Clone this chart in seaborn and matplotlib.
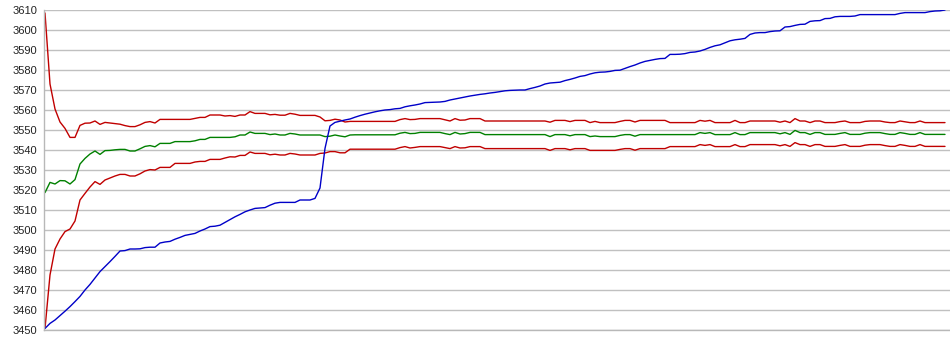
import numpy as np
import pandas as pd
import matplotlib
matplotlib.use("Agg")
import matplotlib.pyplot as plt
import seaborn as sns

# values, one sample every ~5 px along the x axis
upper = [
    3608.5, 3573.0, 3560.5, 3554.0, 3550.8, 3546.3, 3546.3, 3552.3, 3553.4, 3553.5,
    3554.5, 3552.8, 3553.8, 3553.5, 3553.2, 3552.9, 3552.2, 3551.7, 3551.7, 3552.6,
    3553.8, 3554.2, 3553.5, 3555.3, 3555.3, 3555.3, 3555.3, 3555.3, 3555.3, 3555.3,
    3555.8, 3556.3, 3556.3, 3557.5, 3557.5, 3557.5, 3557.0, 3557.2, 3556.8, 3557.5,
    3557.5, 3559.2, 3558.3, 3558.3, 3558.3, 3557.6, 3557.8, 3557.4, 3557.4, 3558.3,
    3557.9, 3557.3, 3557.3, 3557.3, 3557.3, 3556.5, 3554.6, 3554.8, 3555.4, 3555.0,
    3554.0, 3554.3, 3554.3, 3554.3, 3554.3, 3554.3, 3554.3, 3554.3, 3554.3, 3554.3,
    3554.3, 3555.2, 3555.7, 3555.2, 3555.3, 3555.7, 3555.7, 3555.7, 3555.7, 3555.7,
    3555.1, 3554.5, 3555.7, 3554.9, 3555.0, 3555.7, 3555.7, 3555.7, 3554.5, 3554.5,
    3554.5, 3554.5, 3554.5, 3554.5, 3554.5, 3554.5, 3554.5, 3554.5, 3554.5, 3554.5,
    3554.5, 3553.9, 3554.8, 3554.8, 3554.8, 3554.2, 3554.8, 3554.8, 3554.8, 3553.7,
    3554.3, 3553.7, 3553.7, 3553.7, 3553.7, 3554.3, 3554.8, 3554.8, 3554.0, 3554.8,
    3554.8, 3554.8, 3554.8, 3554.8, 3554.8, 3553.7, 3553.7, 3553.7, 3553.7, 3553.7,
    3553.7, 3554.8, 3554.4, 3554.8, 3553.7, 3553.7, 3553.7, 3553.7, 3554.8, 3553.7,
    3553.7, 3554.5, 3554.5, 3554.5, 3554.5, 3554.5, 3554.5, 3553.9, 3554.5, 3553.7,
    3555.7, 3554.5, 3554.5, 3553.7, 3554.5, 3554.5, 3553.7, 3553.7, 3553.7, 3554.2,
    3554.5, 3553.7, 3553.7, 3553.7, 3554.3, 3554.5, 3554.5, 3554.5, 3554.0, 3553.7,
    3553.7, 3554.5, 3554.1, 3553.7, 3553.7, 3554.5, 3553.7, 3553.7, 3553.7, 3553.7,
    3553.7,
]

middle = [
    3518.7, 3523.8, 3523.0, 3524.7, 3524.6, 3523.0, 3525.2, 3533.0, 3535.8, 3538.0,
    3539.5, 3537.8, 3539.7, 3539.8, 3540.1, 3540.3, 3540.3, 3539.5, 3539.5, 3540.6,
    3541.8, 3542.2, 3541.6, 3543.3, 3543.3, 3543.3, 3544.2, 3544.2, 3544.2, 3544.2,
    3544.6, 3545.3, 3545.3, 3546.3, 3546.3, 3546.3, 3546.3, 3546.3, 3546.6, 3547.5,
    3547.5, 3549.0, 3548.3, 3548.3, 3548.3, 3547.7, 3548.0, 3547.5, 3547.5, 3548.3,
    3548.0, 3547.5, 3547.5, 3547.5, 3547.5, 3547.5, 3546.7, 3546.9, 3547.5, 3547.0,
    3546.6, 3547.5, 3547.6, 3547.6, 3547.6, 3547.6, 3547.6, 3547.6, 3547.6, 3547.6,
    3547.6, 3548.4, 3548.8, 3548.2, 3548.3, 3548.8, 3548.8, 3548.8, 3548.8, 3548.8,
    3548.2, 3547.7, 3548.8, 3548.0, 3548.2, 3548.8, 3548.8, 3548.8, 3547.7, 3547.7,
    3547.7, 3547.7, 3547.7, 3547.7, 3547.7, 3547.7, 3547.7, 3547.7, 3547.7, 3547.7,
    3547.7, 3546.7, 3547.7, 3547.7, 3547.7, 3547.1, 3547.7, 3547.7, 3547.7, 3546.7,
    3547.0, 3546.7, 3546.7, 3546.7, 3546.7, 3547.3, 3547.7, 3547.7, 3546.9, 3547.7,
    3547.7, 3547.7, 3547.7, 3547.7, 3547.7, 3547.7, 3547.7, 3547.7, 3547.7, 3547.7,
    3547.7, 3548.7, 3548.3, 3548.7, 3547.7, 3547.7, 3547.7, 3547.7, 3548.7, 3547.7,
    3547.7, 3548.7, 3548.7, 3548.7, 3548.7, 3548.7, 3548.7, 3548.1, 3548.7, 3547.8,
    3549.8, 3548.7, 3548.7, 3547.8, 3548.7, 3548.7, 3547.8, 3547.8, 3547.8, 3548.3,
    3548.7, 3547.8, 3547.8, 3547.8, 3548.4, 3548.7, 3548.7, 3548.7, 3548.2, 3547.8,
    3547.8, 3548.7, 3548.3, 3547.8, 3547.8, 3548.7, 3547.8, 3547.8, 3547.8, 3547.8,
    3547.8,
]

lower = [
    3450.8, 3477.5, 3490.5, 3495.5, 3499.2, 3500.5, 3504.5, 3515.0, 3518.3, 3521.5,
    3524.2, 3522.8, 3525.0, 3526.0, 3527.0, 3527.8, 3527.8, 3527.0, 3527.0, 3528.1,
    3529.5, 3530.2, 3530.0, 3531.3, 3531.3, 3531.3, 3533.3, 3533.3, 3533.3, 3533.3,
    3534.0, 3534.3, 3534.3, 3535.3, 3535.3, 3535.3, 3536.0, 3536.6, 3536.5, 3537.3,
    3537.3, 3539.0, 3538.3, 3538.3, 3538.3, 3537.6, 3537.9, 3537.5, 3537.5, 3538.3,
    3538.0, 3537.5, 3537.5, 3537.5, 3537.5, 3538.3, 3538.5, 3539.2, 3539.2, 3538.6,
    3538.6, 3540.4, 3540.4, 3540.4, 3540.4, 3540.4, 3540.4, 3540.4, 3540.4, 3540.4,
    3540.4, 3541.2, 3541.7, 3541.0, 3541.3, 3541.7, 3541.7, 3541.7, 3541.7, 3541.7,
    3541.2, 3540.7, 3541.7, 3541.0, 3541.1, 3541.7, 3541.7, 3541.7, 3540.7, 3540.7,
    3540.7, 3540.7, 3540.7, 3540.7, 3540.7, 3540.7, 3540.7, 3540.7, 3540.7, 3540.7,
    3540.7, 3539.8, 3540.7, 3540.7, 3540.7, 3540.1, 3540.7, 3540.7, 3540.7, 3539.8,
    3539.8, 3539.8, 3539.8, 3539.8, 3539.8, 3540.3, 3540.7, 3540.7, 3539.9, 3540.7,
    3540.7, 3540.7, 3540.7, 3540.7, 3540.7, 3541.7, 3541.7, 3541.7, 3541.7, 3541.7,
    3541.7, 3542.7, 3542.3, 3542.7, 3541.7, 3541.7, 3541.7, 3541.7, 3542.7, 3541.7,
    3541.7, 3542.7, 3542.7, 3542.7, 3542.7, 3542.7, 3542.7, 3542.1, 3542.7, 3541.8,
    3543.7, 3542.7, 3542.7, 3541.8, 3542.7, 3542.7, 3541.8, 3541.8, 3541.8, 3542.3,
    3542.7, 3541.8, 3541.8, 3541.8, 3542.4, 3542.7, 3542.7, 3542.7, 3542.2, 3541.8,
    3541.8, 3542.7, 3542.3, 3541.8, 3541.8, 3542.7, 3541.8, 3541.8, 3541.8, 3541.8,
    3541.8,
]

price = [
    3450.8, 3453.3, 3455.0, 3457.2, 3459.4, 3461.7, 3464.2, 3466.8, 3470.0, 3472.8,
    3476.0, 3479.2, 3481.7, 3484.2, 3486.8, 3489.5, 3489.7, 3490.5, 3490.5, 3490.6,
    3491.2, 3491.4, 3491.4, 3493.5, 3494.0, 3494.3, 3495.4, 3496.3, 3497.3, 3497.8,
    3498.3, 3499.5, 3500.5, 3501.7, 3501.9, 3502.4, 3503.8, 3505.2, 3506.6, 3507.8,
    3509.1, 3510.0, 3510.8, 3511.0, 3511.2, 3512.4, 3513.4, 3513.8, 3513.8, 3513.8,
    3513.8, 3515.0, 3515.0, 3515.0, 3515.8, 3521.0, 3540.8, 3552.0, 3553.8, 3554.4,
    3555.0, 3555.5, 3556.4, 3557.2, 3557.9, 3558.5, 3559.1, 3559.6, 3560.0, 3560.2,
    3560.6, 3560.8, 3561.6, 3562.1, 3562.5, 3563.0, 3563.7, 3563.8, 3563.9, 3564.0,
    3564.3, 3565.0, 3565.5, 3566.0, 3566.5, 3567.0, 3567.4, 3567.8, 3568.1, 3568.5,
    3568.8, 3569.2, 3569.6, 3569.8, 3569.9, 3570.0, 3570.0, 3570.7, 3571.3, 3572.0,
    3573.0, 3573.5, 3573.7, 3573.9, 3574.7, 3575.3, 3576.0, 3576.8, 3577.2, 3578.0,
    3578.6, 3578.9, 3579.0, 3579.3, 3579.8, 3579.9, 3580.8, 3581.7, 3582.5, 3583.5,
    3584.3, 3584.8, 3585.3, 3585.7, 3585.8, 3587.8, 3587.8, 3587.9, 3588.2, 3588.8,
    3589.0, 3589.5, 3590.3, 3591.3, 3592.1, 3592.6, 3593.6, 3594.6, 3595.1, 3595.4,
    3595.8, 3597.8, 3598.5, 3598.7, 3598.7, 3599.2, 3599.5, 3599.6, 3601.5, 3601.7,
    3602.3, 3602.8, 3602.9, 3604.3, 3604.6, 3604.7, 3605.7, 3605.8, 3606.6, 3606.8,
    3606.8, 3606.8, 3607.0, 3607.7, 3607.7, 3607.7, 3607.7, 3607.7, 3607.7, 3607.7,
    3607.7, 3608.3, 3608.7, 3608.7, 3608.7, 3608.7, 3608.7, 3609.2, 3609.5, 3609.6,
    3610.0,
]

y_ticks = list(range(3450, 3611, 10))

# long-form table for seaborn
df = pd.DataFrame({
    "step": np.arange(len(price)),
    "upper": upper,
    "middle": middle,
    "lower": lower,
    "price": price,
})
long_df = df.melt(id_vars="step", var_name="series", value_name="value")

sns.set_style("white")
plt.rcParams["font.family"] = ["Liberation Sans", "DejaVu Sans"]

fig = plt.figure(figsize=(9.5, 3.55), dpi=100)
ax = fig.add_axes([44 / 950, 25 / 355, 906 / 950, 320 / 355])

palette = {"upper": "#c00000", "middle": "#008000", "lower": "#c00000", "price": "#0000c8"}
sns.lineplot(data=long_df, x="step", y="value", hue="series",
             hue_order=["upper", "middle", "lower", "price"],
             palette=palette, linewidth=1.0, estimator=None, legend=False, ax=ax)

ax.set_xlim(-0.2, 181)
ax.set_ylim(3450, 3610)
ax.set_yticks(y_ticks)
ax.set_yticklabels([str(t) for t in y_ticks])
ax.set_xticks([])
ax.set_xlabel("")
ax.set_ylabel("")

ax.grid(axis="y", color="#c0c0c0", linewidth=1.0)
ax.set_axisbelow(True)
ax.tick_params(axis="y", length=0, pad=5, labelsize=8, labelcolor="#222222")

for side in ["top", "right"]:
    ax.spines[side].set_visible(False)
for side in ["left", "bottom"]:
    ax.spines[side].set_color("#b8b8b8")
    ax.spines[side].set_linewidth(1.0)

fig.savefig("out.png", dpi=100)
